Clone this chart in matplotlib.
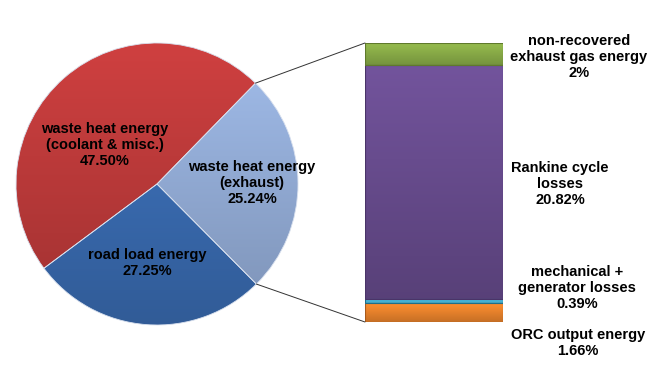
import numpy as np
import matplotlib.pyplot as plt
from matplotlib.patches import ConnectionPatch
from matplotlib.colors import to_rgb

# pie data (counter-clockwise from the exhaust slice)
pie_labels = ["waste heat energy\n(exhaust)\n25.24%",
              "waste heat energy\n(coolant & misc.)\n47.50%",
              "road load energy\n27.25%"]
pie_values = [25.24, 47.50, 27.25]
pie_colors = ["#93acd6", "#bc3a3a", "#3a6cb2"]

# exhaust breakdown, bottom to top
bar_labels = ["ORC output energy\n1.66%",
              "mechanical +\ngenerator losses\n0.39%",
              "Rankine cycle\nlosses\n20.82%",
              "non-recovered\nexhaust gas energy\n2%"]
bar_values = [1.66, 0.39, 20.82, 2.0]
bar_colors = ["#e9832c", "#4cc0e4", "#684c8e", "#8aad48"]
bar_edges = ["#a85a1c", "#1f6f8a", "#4a3468", "#5f7a2c"]

W, H = 660, 368
fig = plt.figure(figsize=(W / 100, H / 100), dpi=100)
fig.patch.set_facecolor("white")

plt.rcParams['font.family'] = ['Liberation Sans', 'DejaVu Sans']


def px(x, y):
    return x / W, 1 - y / H


def shade(ax, patch, color, extent, light=1.1, dark=0.85):
    # vertical gradient, lighter on top, clipped to the patch
    c = np.array(to_rgb(color))
    t = np.linspace(dark, light, 64)[:, None]
    img = np.clip(c[None, :] * t, 0, 1)[:, None, :]
    im = ax.imshow(img, extent=extent, origin="lower", aspect="auto",
                   interpolation="bilinear", zorder=patch.get_zorder())
    im.set_clip_path(patch)
    patch.set_facecolor("none")
    patch.set_zorder(patch.get_zorder() + 0.1)


# Pie ###############################################################
ax_pie = fig.add_axes([16 / W, (H - 325) / H, 282 / W, 282 / H])
start = -45.2
wedges, _ = ax_pie.pie(pie_values, colors=pie_colors, startangle=start,
                       counterclock=True,
                       wedgeprops=dict(edgecolor="#d8e0ee", linewidth=0.6))
for w, c in zip(wedges, pie_colors):
    shade(ax_pie, w, c, (-1, 1, -1, 1))
ax_pie.set_xlim(-1, 1)
ax_pie.set_ylim(-1, 1)
ax_pie.set_aspect("equal")
ax_pie.axis("off")

# Stacked bar #######################################################
ax_bar = fig.add_axes([365 / W, (H - 322) / H, 138 / W, 279 / H])
bottom = 0
for v, c, e in zip(bar_values, bar_colors, bar_edges):
    bars = ax_bar.bar(0, v, width=1, bottom=bottom, color=c, edgecolor=e, linewidth=0.8)
    shade(ax_bar, bars[0], c, (-0.5, 0.5, bottom, bottom + v), light=1.1, dark=0.85)
    bottom += v
total = bottom
ax_bar.set_xlim(-0.5, 0.5)
ax_bar.set_ylim(0, total)
ax_bar.axis("off")

# connector lines
frac = np.cumsum([0] + pie_values) / sum(pie_values)
a_top = np.deg2rad(start + 360 * frac[1])
a_bot = np.deg2rad(start)
for ang, yb in [(a_top, total), (a_bot, 0)]:
    con = ConnectionPatch(xyA=(np.cos(ang), np.sin(ang)), coordsA=ax_pie.transData,
                          xyB=(-0.5, yb), coordsB=ax_bar.transData,
                          color="#333333", lw=0.7)
    fig.add_artist(con)

# labels ############################################################
txt = dict(fontsize=10.5, fontweight="bold", ha="center", va="center",
           linespacing=1.15, color="black")
pie_pos = [(252, 183), (105, 145), (147, 263)]
for lab, (x, y) in zip(pie_labels, pie_pos):
    fig.text(*px(x, y), lab, **txt)

bar_pos = [(578, 343), (577, 288), (560, 184), (579, 57)]
for lab, (x, y) in zip(bar_labels, bar_pos):
    fig.text(*px(x, y), lab, **txt)

fig.savefig("out.png", dpi=100, facecolor="white")
